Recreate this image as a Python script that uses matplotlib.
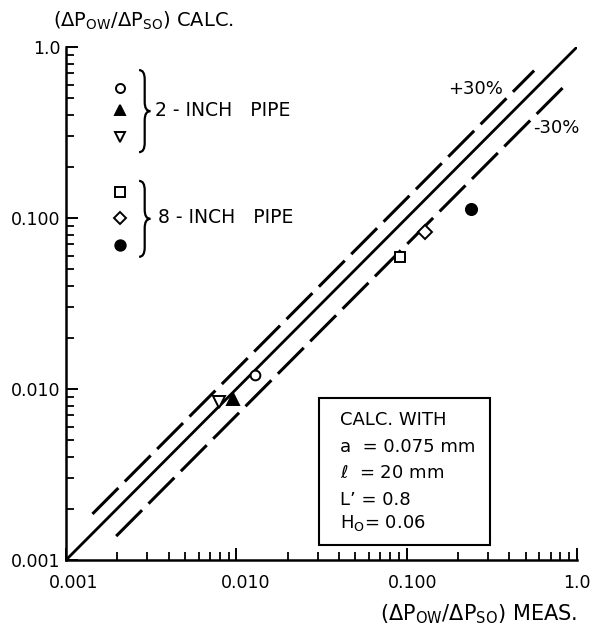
import matplotlib
matplotlib.use("Agg")
import matplotlib.pyplot as plt
import matplotlib.transforms as mtransforms
import numpy as np
from matplotlib.patches import PathPatch, Rectangle
from matplotlib.path import Path
from matplotlib.ticker import FixedLocator, LogLocator, NullFormatter

# ── data ────────────────────────────────────────────────────────────────
# 2-inch pipe
circ2_x = [0.0128]
circ2_y = [0.0120]
tri2_x = [0.0095]
tri2_y = [0.0087]
dtri2_x = [0.0079]
dtri2_y = [0.0084]
# 8-inch pipe
sq8_x = [0.092]
sq8_y = [0.059]
dia8_x = [0.128]
dia8_y = [0.083]
dot8_x = [0.24]
dot8_y = [0.113]

parity_x = [0.001, 1.0]
plus_x = [0.00143, 0.56]
minus_x = [0.00197, 0.88]
plus_factor = 1.3
minus_factor = 0.7

decade_ticks = [0.001, 0.01, 0.1, 1.0]
x_ticklabels = ["0.001", "0.010", "0.100", "1.0"]
y_ticklabels = ["0.001", "0.010", "0.100", "1.0"]

box_lines = ["CALC. WITH", "a  = 0.075 mm", r"$\ell$  = 20 mm",
             "L\u2019 = 0.8", r"H$_{\rm O}$= 0.06"]

FS = 12.5
plt.rcParams["font.family"] = ["DejaVu Sans"]
plt.rcParams["mathtext.default"] = "regular"

fig = plt.figure(figsize=(5.96, 6.26), dpi=100)
ax = fig.add_axes([66 / 596, 1 - 560 / 626, 511 / 596, 513 / 626])
ax.set_xscale("log")
ax.set_yscale("log")
ax.set_xlim(0.001, 1.0)
ax.set_ylim(0.001, 1.0)

for side in ("top", "right"):
    ax.spines[side].set_visible(False)
for side in ("left", "bottom"):
    ax.spines[side].set_linewidth(1.8)

ax.xaxis.set_major_locator(FixedLocator(decade_ticks))
ax.yaxis.set_major_locator(FixedLocator(decade_ticks))
ax.xaxis.set_minor_locator(LogLocator(base=10, subs=np.arange(2, 10)))
ax.yaxis.set_minor_locator(LogLocator(base=10, subs=np.arange(2, 10)))
ax.xaxis.set_minor_formatter(NullFormatter())
ax.yaxis.set_minor_formatter(NullFormatter())
ax.set_xticklabels(x_ticklabels)
ax.set_yticklabels(y_ticklabels)
ax.tick_params(which="major", direction="in", length=8.5, width=1.4, labelsize=FS)
ax.tick_params(which="minor", direction="in", length=5.5, width=1.3)
ax.tick_params(axis="x", which="major", pad=10)
ax.tick_params(axis="y", which="major", pad=4)

# labels in the original sit a little right of their ticks
for lab, dx in zip(ax.get_xticklabels(), [0.08, 0.09, 0.06, 0.0]):
    shift = mtransforms.ScaledTranslation(dx, 0, fig.dpi_scale_trans)
    lab.set_transform(lab.get_transform() + shift)

# parity and +/-30 % lines
ax.plot(parity_x, parity_x, color="black", lw=2.0, solid_capstyle="butt")
px = np.array(plus_x)
mx = np.array(minus_x)
ax.plot(px, px * plus_factor, color="black", lw=2.2, dashes=(12, 3), dash_capstyle="butt")
ax.plot(mx, mx * minus_factor, color="black", lw=2.2, dashes=(12, 3), dash_capstyle="butt")

ax.text(0.748, 0.918, "+30%", transform=ax.transAxes, fontsize=FS + 0.5, va="center",
        ha="left")
ax.text(0.915, 0.842, "-30%", transform=ax.transAxes, fontsize=FS + 0.5, va="center",
        ha="left", clip_on=False)

# data points
mk = dict(color="black", linestyle="none", markeredgewidth=1.4, clip_on=False, zorder=5)
ax.plot(circ2_x, circ2_y, marker="o", ms=7, mfc="white", **mk)
ax.plot(tri2_x, tri2_y, marker="^", ms=8, mfc="black", **mk)
ax.plot(dtri2_x, dtri2_y, marker="v", ms=8, mfc="white", **mk)
ax.plot(sq8_x, sq8_y, marker="s", ms=7, mfc="white", **mk)
ax.plot(dia8_x, dia8_y, marker="D", ms=7, mfc="white", **mk)
ax.plot(dot8_x, dot8_y, marker="o", ms=8, mfc="black", **mk)

# hand-drawn style legend
leg_x = 0.106
tr = ax.transAxes
ax.plot([leg_x], [0.920], marker="o", ms=6.5, mfc="white", transform=tr, **mk)
ax.plot([leg_x], [0.877], marker="^", ms=7, mfc="black", transform=tr, **mk)
ax.plot([leg_x], [0.825], marker="v", ms=7, mfc="white", transform=tr, **mk)
ax.plot([leg_x], [0.717], marker="s", ms=6.5, mfc="white", transform=tr, **mk)
ax.plot([leg_x], [0.667], marker="D", ms=6.5, mfc="white", transform=tr, **mk)
ax.plot([leg_x], [0.614], marker="o", ms=7.5, mfc="black", transform=tr, **mk)


def brace(x, y0, y1, w, r):
    ym = 0.5 * (y0 + y1)
    xm = x + w / 2
    verts = [(x, y1), (xm, y1), (xm, y1 - r),
             (xm, ym + r), (xm, ym), (x + w, ym),
             (xm, ym), (xm, ym - r),
             (xm, y0 + r), (xm, y0), (x, y0)]
    codes = [Path.MOVETO, Path.CURVE3, Path.CURVE3,
             Path.LINETO, Path.CURVE3, Path.CURVE3,
             Path.CURVE3, Path.CURVE3,
             Path.LINETO, Path.CURVE3, Path.CURVE3]
    ax.add_patch(PathPatch(Path(verts, codes), fill=False, lw=1.6,
                           edgecolor="black", transform=tr))


brace(0.143, 0.795, 0.955, 0.022, 0.018)
brace(0.143, 0.591, 0.739, 0.022, 0.018)
ax.text(0.174, 0.877, "2 - INCH   PIPE", transform=tr, fontsize=13.5, va="center")
ax.text(0.180, 0.667, "8 - INCH   PIPE", transform=tr, fontsize=13.5, va="center")

# parameter box
ax.add_patch(Rectangle((0.495, 0.029), 0.335, 0.287, transform=tr, fill=False,
                       lw=1.5, edgecolor="black", zorder=4))
box_y = [0.273, 0.220, 0.170, 0.117, 0.072]
for s, yy in zip(box_lines, box_y):
    ax.text(0.536, yy, s, transform=tr, fontsize=13, va="center", ha="left")

# axis titles
fig.text(53 / 596, 1 - 21 / 626,
         r"($\Delta$P$_{\rm OW}$/$\Delta$P$_{\rm SO}$) CALC.", fontsize=14,
         va="center", ha="left")
fig.text(380 / 596, 1 - 614 / 626,
         r"($\Delta$P$_{\rm OW}$/$\Delta$P$_{\rm SO}$) MEAS.", fontsize=15,
         va="center", ha="left")

fig.savefig("out.png", dpi=100)
